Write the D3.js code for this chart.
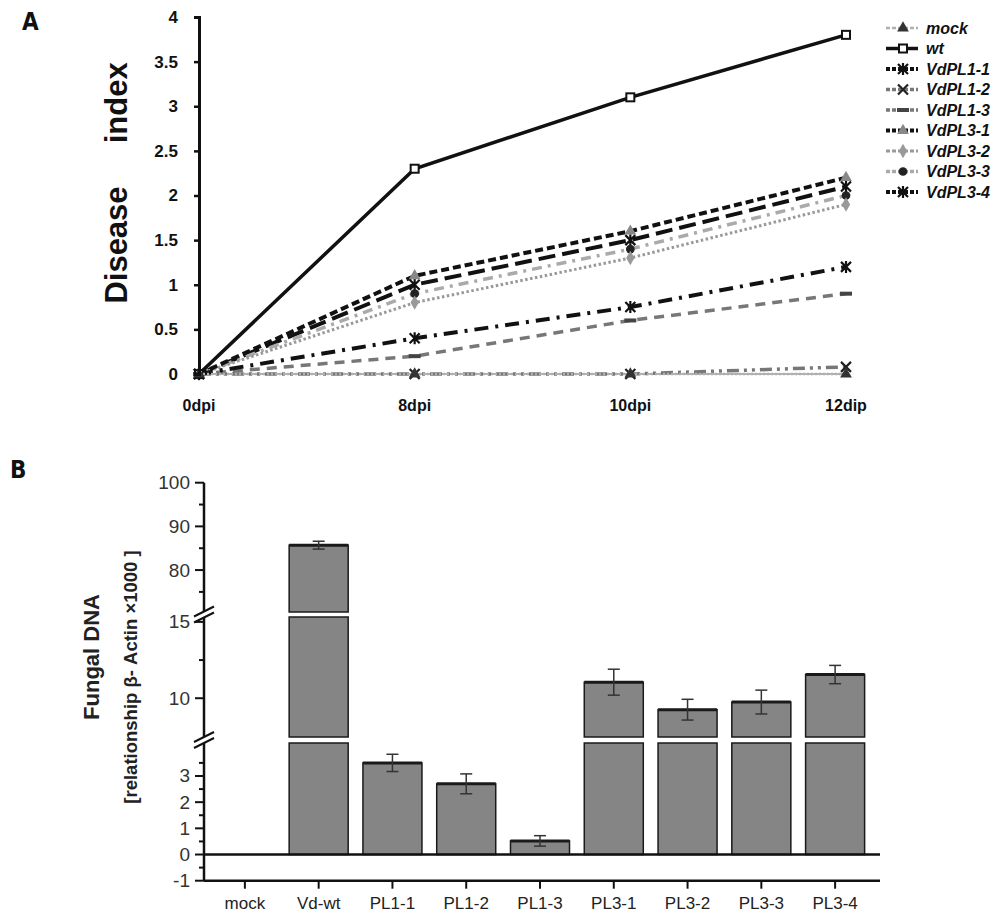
<!DOCTYPE html>
<html>
<head>
<meta charset="utf-8">
<script src="https://cdn.jsdelivr.net/npm/d3@7"></script>
<style>
  body { margin: 0; background: #fff; }
  svg { display: block; }
</style>
</head>
<body>
<div id="chart"></div>
<script>
// ---- panel A data ----
const days = ["0dpi", "8dpi", "10dpi", "12dip"];
const seriesNames = ["mock", "wt", "VdPL1-1", "VdPL1-2", "VdPL1-3", "VdPL3-1", "VdPL3-2", "VdPL3-3", "VdPL3-4"];
const mockVals = [0, 0, 0, 0];
const wtVals = [0, 2.3, 3.1, 3.8];
const pl11Vals = [0, 0.4, 0.75, 1.2];
const pl12Vals = [0, 0, 0, 0.08];
const pl13Vals = [0, 0.2, 0.6, 0.9];
const pl31Vals = [0, 1.1, 1.6, 2.2];
const pl32Vals = [0, 0.8, 1.3, 1.9];
const pl33Vals = [0, 0.9, 1.4, 2.0];
const pl34Vals = [0, 1.0, 1.5, 2.1];
const yTicksA = [0, 0.5, 1, 1.5, 2, 2.5, 3, 3.5, 4];

// ---- panel B data ----
const strains = ["mock", "Vd-wt", "PL1-1", "PL1-2", "PL1-3", "PL3-1", "PL3-2", "PL3-3", "PL3-4"];
const dnaVals = [0, 85.7, 3.5, 2.7, 0.52, 11.05, 9.25, 9.75, 11.55];
const dnaErr = [0, 0.9, 0.33, 0.38, 0.2, 0.85, 0.68, 0.78, 0.6];
const yTicksB = [-1, 0, 1, 2, 3, 10, 15, 80, 90, 100];
const yMinorB = [-0.5, 0.5, 1.5, 2.5, 3.5, 12.5, 75, 85, 95];

const svg = d3.select("#chart").append("svg")
  .attr("width", 1000).attr("height", 916);

// ================= Panel A =================
const a = { left: 199, right: 846, top: 17, bottom: 374 };
const xA = d3.scalePoint().domain(days).range([a.left, a.right]);
const yA = d3.scaleLinear().domain([0, 4]).range([a.bottom, a.top]);

const styles = {
  "mock":    { color: "#b0b0b0", width: 2.5, dash: "2,2",  marker: "triangle", mfill: "#333" },
  "wt":      { color: "#111", width: 3.5, dash: null, marker: "square", mfill: "#fff" },
  "VdPL1-1": { color: "#111", width: 4, dash: "14,7,3,7", marker: "asterisk", mfill: "#111" },
  "VdPL1-2": { color: "#777", width: 3.5, dash: "12,5,3,5,3,5", marker: "x", mfill: "#222" },
  "VdPL1-3": { color: "#777", width: 3.5, dash: "10,7", marker: "bar", mfill: "#444" },
  "VdPL3-1": { color: "#111", width: 4, dash: "8,4", marker: "triangle", mfill: "#888" },
  "VdPL3-2": { color: "#999", width: 3, dash: "2.5,2.5", marker: "diamond", mfill: "#999" },
  "VdPL3-3": { color: "#aaa", width: 3.5, dash: "10,6,3,6", marker: "circle", mfill: "#222" },
  "VdPL3-4": { color: "#111", width: 4, dash: "17,7", marker: "asterisk", mfill: "#111" }
};
const lineData = [mockVals, wtVals, pl11Vals, pl12Vals, pl13Vals, pl31Vals, pl32Vals, pl33Vals, pl34Vals]
  .map((vals, i) => ({ name: seriesNames[i], values: vals }));

function drawMarker(g, type, x, y, fill) {
  const s = 5;
  if (type === "square") {
    g.append("rect").attr("x", x - 4).attr("y", y - 4).attr("width", 8).attr("height", 8)
      .attr("fill", "#fff").attr("stroke", "#111").attr("stroke-width", 2);
  } else if (type === "x" || type === "asterisk") {
    const p = `M${x - s},${y - s}L${x + s},${y + s}M${x - s},${y + s}L${x + s},${y - s}` +
      (type === "asterisk" ? `M${x},${y - s - 1}L${x},${y + s + 1}` : "");
    g.append("path").attr("d", p).attr("stroke", fill).attr("stroke-width", 2.2).attr("fill", "none");
  } else if (type === "bar") {
    g.append("path").attr("d", `M${x - 6},${y}L${x + 6},${y}`).attr("stroke", fill).attr("stroke-width", 4);
  } else {
    const sym = { triangle: d3.symbolTriangle, diamond: d3.symbolDiamond, circle: d3.symbolCircle }[type];
    g.append("path").attr("d", d3.symbol().type(sym).size(60)())
      .attr("transform", `translate(${x},${y})`).attr("fill", fill);
  }
}

// x axis baseline
svg.append("line").attr("x1", a.left).attr("x2", a.right).attr("y1", a.bottom).attr("y2", a.bottom)
  .attr("stroke", "#999").attr("stroke-width", 1.5);

const line = d3.line().x((d, i) => xA(days[i])).y(d => yA(d));
// draw in reverse so mock/wt end on top
lineData.slice().reverse().forEach(s => {
  const st = styles[s.name];
  svg.append("path").datum(s.values).attr("d", line)
    .attr("fill", "none").attr("stroke", st.color).attr("stroke-width", st.width)
    .attr("stroke-dasharray", st.dash);
  const mg = svg.append("g");
  s.values.forEach((v, i) => drawMarker(mg, st.marker, xA(days[i]), yA(v), st.mfill));
});

// y axis
const yAxisA = svg.append("g").attr("transform", `translate(${a.left},0)`)
  .call(d3.axisLeft(yA).tickValues(yTicksA).tickFormat(d3.format("")).tickSize(5).tickPadding(16));
yAxisA.select(".domain").attr("stroke", "#111").attr("stroke-width", 3);
yAxisA.selectAll(".tick line").attr("stroke", "#111").attr("stroke-width", 2.5);
yAxisA.selectAll("text").attr("font-family", "Liberation Sans, Arial, sans-serif")
  .attr("font-weight", "bold").attr("font-size", 17).attr("fill", "#111");

// x tick labels
svg.append("g").selectAll("text").data(days).join("text")
  .attr("x", d => xA(d)).attr("y", 411).attr("text-anchor", "middle")
  .attr("font-family", "Liberation Sans, Arial, sans-serif").attr("font-weight", "bold")
  .attr("font-size", 16).attr("fill", "#111").text(d => d);

// y title
svg.append("text").attr("transform", "translate(127,183) rotate(-90)")
  .attr("text-anchor", "middle").attr("font-family", "Liberation Sans, Arial, sans-serif")
  .attr("font-weight", "bold").attr("font-size", 31).attr("fill", "#111")
  .attr("xml:space", "preserve").text("Disease     index");

// panel letter
svg.append("text").attr("x", 22).attr("y", 30).attr("font-family", "DejaVu Sans Condensed, DejaVu Sans, sans-serif")
  .attr("font-weight", "bold").attr("font-size", 24).attr("fill", "#111").text("A");

// legend
const leg = svg.append("g").attr("transform", "translate(886,28)");
seriesNames.forEach((n, i) => {
  const st = styles[n];
  const gy = i * 20.5;
  const g = leg.append("g");
  g.append("line").attr("x1", 0).attr("x2", 32).attr("y1", gy).attr("y2", gy)
    .attr("stroke", st.color).attr("stroke-width", st.width).attr("stroke-dasharray", st.dash ? "4,2" : null);
  drawMarker(g, st.marker, 17, gy, st.mfill);
  g.append("text").attr("x", 40).attr("y", gy + 5.5)
    .attr("font-family", "Liberation Sans, Arial, sans-serif").attr("font-weight", "bold")
    .attr("font-style", "italic").attr("font-size", 16).attr("fill", "#111").text(n);
});

// ================= Panel B =================
const b = { left: 204, right: 880, axisY: 880.7 };
const xB = d3.scaleBand().domain(strains).range([208, 872]).paddingInner(0.2).paddingOuter(0.1);
// broken y axis: three segments
const segs = [
  { d: [-1, 4.26], r: [880.7, 743] },
  { d: [7.46, 15.32], r: [737, 617] },
  { d: [70.4, 100], r: [612, 482.7] }
];
segs.forEach(s => { s.y = d3.scaleLinear().domain(s.d).range(s.r); });
const segOf = v => segs.find(s => v >= s.d[0] - 1e-9 && v <= s.d[1] + 1e-9);
const yB = v => segOf(v).y(v);

// bars, split across segments
const barG = svg.append("g");
strains.forEach((c, i) => {
  const v = dnaVals[i];
  if (v <= 0) return;
  segs.forEach(s => {
    const lo = Math.max(0, s.d[0]);
    if (v <= lo) return;
    const hi = Math.min(v, s.d[1]);
    const y1 = s.y(hi), y0 = s.y(lo);
    barG.append("rect").attr("x", xB(c)).attr("width", xB.bandwidth())
      .attr("y", y1).attr("height", y0 - y1)
      .attr("fill", "#858585").attr("stroke", "#1a1a1a").attr("stroke-width", 1.5);
    if (hi === v) {
      barG.append("line").attr("x1", xB(c)).attr("x2", xB(c) + xB.bandwidth())
        .attr("y1", y1).attr("y2", y1).attr("stroke", "#1a1a1a").attr("stroke-width", 3);
    }
  });
});

// error bars
const errG = svg.append("g").attr("stroke", "#333").attr("stroke-width", 1.5);
strains.forEach((c, i) => {
  if (dnaErr[i] <= 0) return;
  const cx = xB(c) + xB.bandwidth() / 2;
  const yt = yB(dnaVals[i] + dnaErr[i]), yb = yB(dnaVals[i] - dnaErr[i]);
  errG.append("line").attr("x1", cx).attr("x2", cx).attr("y1", yt).attr("y2", yb);
  errG.append("line").attr("x1", cx - 6).attr("x2", cx + 6).attr("y1", yt).attr("y2", yt);
  errG.append("line").attr("x1", cx - 6).attr("x2", cx + 6).attr("y1", yb).attr("y2", yb);
});

// zero line
svg.append("line").attr("x1", b.left).attr("x2", b.right).attr("y1", yB(0)).attr("y2", yB(0))
  .attr("stroke", "#111").attr("stroke-width", 2.5);

// y axis segments
segs.forEach(s => {
  svg.append("line").attr("x1", b.left).attr("x2", b.left).attr("y1", s.r[0]).attr("y2", s.r[1])
    .attr("stroke", "#111").attr("stroke-width", 2.5);
});
const tickG = svg.append("g").attr("font-family", "Liberation Sans, Arial, sans-serif");
yTicksB.forEach(t => {
  tickG.append("line").attr("x1", b.left - 9).attr("x2", b.left).attr("y1", yB(t)).attr("y2", yB(t))
    .attr("stroke", "#111").attr("stroke-width", 2);
  tickG.append("text").attr("x", b.left - 14).attr("y", yB(t) + 6.5).attr("text-anchor", "end")
    .attr("font-size", 19).attr("fill", "#333").text(t);
});
yMinorB.forEach(t => {
  tickG.append("line").attr("x1", b.left - 5).attr("x2", b.left).attr("y1", yB(t)).attr("y2", yB(t))
    .attr("stroke", "#111").attr("stroke-width", 2);
});
// break marks
[614.5, 740].forEach(by => {
  [-3, 3].forEach(off => {
    svg.append("line").attr("x1", b.left - 10).attr("x2", b.left + 10)
      .attr("y1", by + off + 5).attr("y2", by + off - 5)
      .attr("stroke", "#111").attr("stroke-width", 2);
  });
});

// x axis
const xAxisB = svg.append("g").attr("transform", `translate(0,${b.axisY})`)
  .call(d3.axisBottom(xB).tickSize(8).tickPadding(8).tickSizeOuter(0));
xAxisB.select(".domain").attr("d", `M${b.left},0H${b.right}`).attr("stroke", "#111").attr("stroke-width", 2.5);
xAxisB.selectAll(".tick line").attr("stroke", "#111").attr("stroke-width", 2);
xAxisB.selectAll("text").attr("font-family", "Liberation Sans, Arial, sans-serif")
  .attr("font-size", 17).attr("fill", "#222");

// y titles
svg.append("text").attr("transform", "translate(99,657) rotate(-90)").attr("text-anchor", "middle")
  .attr("font-family", "Liberation Sans, Arial, sans-serif").attr("font-weight", "bold")
  .attr("font-size", 22).attr("fill", "#222").text("Fungal DNA");
svg.append("text").attr("transform", "translate(137,677) rotate(-90)").attr("text-anchor", "middle")
  .attr("font-family", "Liberation Sans, Arial, sans-serif").attr("font-weight", "bold")
  .attr("font-size", 18.5).attr("fill", "#222").text("[relationship β- Actin ×1000 ]");

svg.append("text").attr("x", 10).attr("y", 478).attr("font-family", "DejaVu Sans Condensed, DejaVu Sans, sans-serif")
  .attr("font-weight", "bold").attr("font-size", 24).attr("fill", "#111").text("B");
</script>
</body>
</html>
